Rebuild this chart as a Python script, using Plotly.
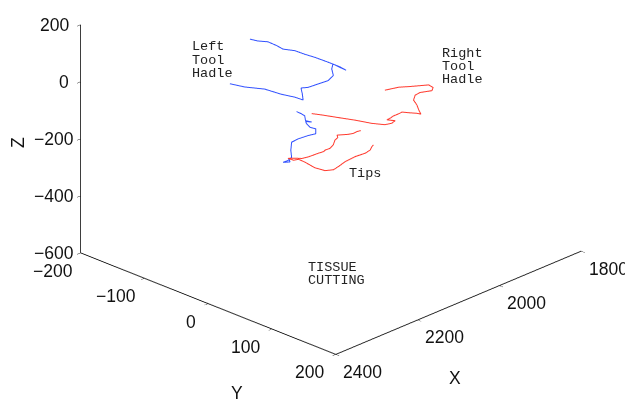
import plotly.graph_objects as go

# ---------------- data ----------------
x_ticks = [1800, 2000, 2200, 2400]
y_ticks = [-200, -100, 0, 100, 200]
z_ticks = [-600, -400, -200, 0, 200]

# Left tool handle (blue)
lh_x = [2142, 2123, 2098, 2076, 2061, 2032, 2008, 1983, 1959, 1939, 1922, 1907, 1939, 1942,
        1938, 1951, 1975, 2000, 2017, 2014, 2012, 2032, 2065, 2106, 2155, 2191]
lh_y = [-100] * len(lh_x)
lh_z = [83, 65, 47, 20, -1, -24, -51, -77, -104, -127, -147, -168, -127, -142,
        -168, -178, -175, -172, -164, -186, -209, -187, -157, -114, -77, -44]

# Left tool tip (blue)
lt_x = [2028, 2016, 2008, 2006, 1991, 2006, 2003, 1995, 1981, 1981, 2000, 2024, 2040, 2042,
        2040, 2049, 2061, 2044, 2047]
lt_y = [-100] * len(lt_x)
lt_z = [-240, -255, -267, -285, -299, -288, -298, -315, -329, -346, -341, -338, -340, -368,
        -393, -399, -398, -407, -393]

# Right tool handle (red)
rh_x = [2124, 2090, 2065, 2038, 2017, 2006, 2009, 2025, 2038, 2050, 2054, 2046, 2041, 2036,
        2046, 2066, 2082, 2090, 2103, 2111, 2119, 2099, 2107, 2124, 2156, 2197, 2237, 2278, 2303]
rh_y = [100] * len(rh_x)
rh_z = [71, 61, 48, 35, 25, 9, 0, 6, 11, 9, -6, -27, -49, -66,
        -57, -43, -31, -32, -32, -35, -36, -51, -55, -50, -26, 10, 43, 77, 97]

# Right tool tip (red)
rt_x = [2183, 2192, 2201, 2213, 2229, 2241, 2239, 2246, 2250, 2258, 2270, 2274, 2286, 2299,
        2311, 2327, 2342, 2361, 2347, 2335, 2319, 2295, 2270, 2250, 2237, 2221, 2197, 2172,
        2160, 2156, 2152]
rt_y = [100] * len(rt_x)
rt_z = [-35, -33, -34, -30, -22, -16, -26, -30, -44, -52, -51, -54, -52, -51,
        -50, -46, -36, -25, -40, -44, -64, -98, -123, -132, -128, -121, -118, -121,
        -117, -108, -104]

BLUE = "#3050ff"
RED = "#ff3a2e"

fig = go.Figure()
for xs, ys, zs, col in [(lh_x, lh_y, lh_z, BLUE), (lt_x, lt_y, lt_z, BLUE),
                        (rh_x, rh_y, rh_z, RED), (rt_x, rt_y, rt_z, RED)]:
    fig.add_trace(go.Scatter3d(x=xs, y=ys, z=zs, mode="lines",
                               line=dict(color=col, width=2),
                               hoverinfo="skip", showlegend=False))

sans = dict(family="Liberation Sans, Arial, sans-serif", size=17.5, color="#111")
common = dict(showbackground=False, showgrid=False, zeroline=False, showline=True,
              linecolor="#222", linewidth=2, ticks="outside", ticklen=5, tickcolor="#222",
              showticklabels=False, showspikes=False, title=dict(text=""))

x_min, x_max = x_ticks[0], x_ticks[-1]
y_min, y_max = y_ticks[0], y_ticks[-1]
z_min, z_max = z_ticks[0], z_ticks[-1]


def lab(t):
    return f"{t}".replace("-", "\u2212")


# tick labels placed at the tick positions through the scene's own axes
scene_ann = []
for t in z_ticks:
    scene_ann.append(dict(x=x_max, y=y_min, z=t, text=lab(t),
                          showarrow=False, xanchor="right", yanchor="middle",
                          xshift=-5 if t < 0 else -10, yshift=0, font=sans))
for t in y_ticks:
    scene_ann.append(dict(x=x_max, y=t, z=z_min, text=lab(t),
                          showarrow=False, xanchor="right", yanchor="middle",
                          xshift=-6 if t < 0 else -10, yshift=-18, font=sans))
for t in x_ticks:
    scene_ann.append(dict(x=t, y=y_max, z=z_min, text=lab(t),
                          showarrow=False, xanchor="left", yanchor="middle",
                          xshift=5.5, yshift=-17.5, font=sans))

d = (0.654, 0.636, 0.409)
r = 1.5
cen = (0.1551, 0.0225, -0.2831)
eye = dict(x=cen[0] + d[0] * r, y=cen[1] + d[1] * r, z=cen[2] + d[2] * r)

fig.update_layout(
    width=625, height=400, margin=dict(l=0, r=0, t=0, b=0),
    paper_bgcolor="white", showlegend=False, hovermode=False,
    scene=dict(
        domain=dict(x=[0, 1], y=[0, 1]),
        xaxis=dict(range=[x_min, x_max], tickvals=x_ticks, **common),
        yaxis=dict(range=[y_min, y_max], tickvals=y_ticks, **common),
        zaxis=dict(range=[z_min, z_max], tickvals=z_ticks, **common),
        aspectmode="manual", aspectratio=dict(x=1.76, y=1.78, z=1.25),
        camera=dict(projection=dict(type="orthographic"), eye=eye,
                    center=dict(x=cen[0], y=cen[1], z=cen[2]),
                    up=dict(x=0, y=0, z=1)),
        annotations=scene_ann,
    ),
)

mono = dict(family="Liberation Mono, Courier New, monospace", size=13.5, color="#222")
labels = [("Left", 190, 47), ("Tool", 190, 60), ("Hadle", 190, 73),
          ("Right", 440, 53), ("Tool", 440, 66), ("Hadle", 440, 79),
          ("Tips", 347, 173), ("TISSUE", 306, 267), ("CUTTING", 306, 280)]
for txt, px, py in labels:
    fig.add_annotation(text=txt, xref="paper", yref="paper", x=px / 625, y=1 - py / 400,
                       xanchor="left", yanchor="middle", showarrow=False, font=mono)

for txt, px, py, ang in [("X", 455, 378, 0), ("Y", 237, 393, 0), ("Z", 18, 143, -90)]:
    fig.add_annotation(text=txt, xref="paper", yref="paper", x=px / 625, y=1 - py / 400,
                       xanchor="center", yanchor="middle", showarrow=False, font=sans,
                       textangle=ang)

fig.write_html("out.html", post_script="document.body.style.margin='0';",
               config={"displayModeBar": False})
